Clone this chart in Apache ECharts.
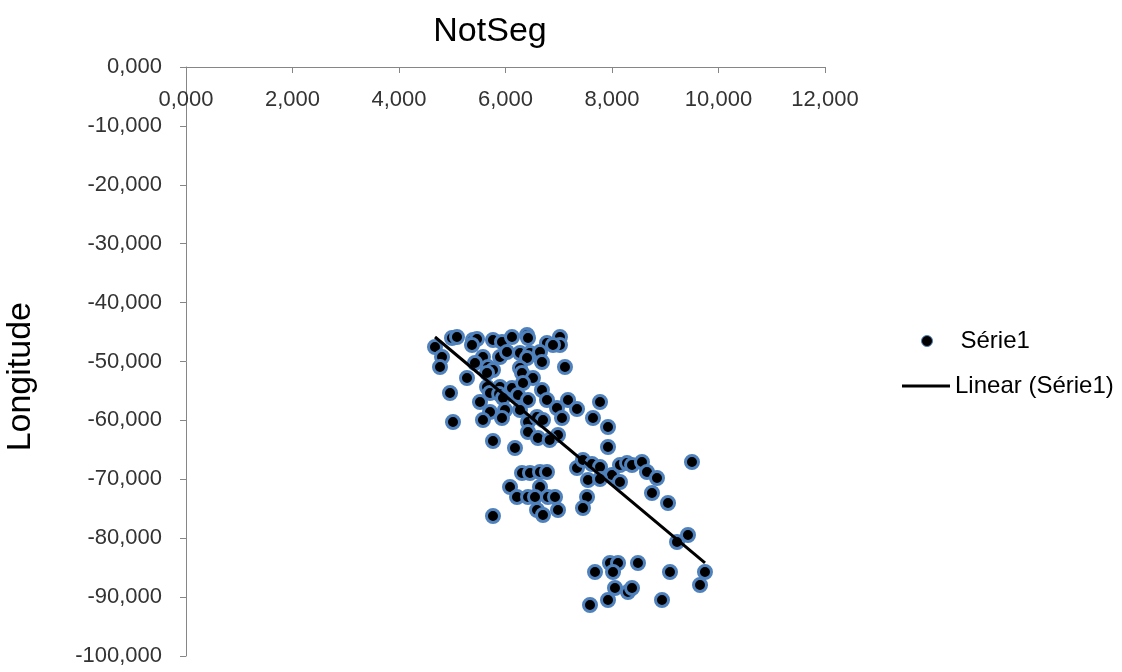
<!DOCTYPE html>
<html>
<head>
<meta charset="utf-8">
<script src="https://cdn.jsdelivr.net/npm/echarts@6/dist/echarts.min.js"></script>
<style>html,body{margin:0;padding:0;background:#fff}#c{width:1122px;height:672px}</style>
</head>
<body>
<div id="c"></div>
<script>
const title = 'NotSeg';
const yAxisName = 'Longitude';
const seriesName = 'Série1';
const trendName = 'Linear (Série1)';
const xTicks = [0, 2, 4, 6, 8, 10, 12];
const yTicks = [0, -10, -20, -30, -40, -50, -60, -70, -80, -90, -100];
const xValues = [
  4.676, 4.808, 4.770, 4.995, 5.089, 5.390, 5.465, 5.371, 5.765, 5.934,
  6.122, 6.404, 6.423, 7.023, 7.023, 6.779, 6.892, 5.577, 5.897, 6.028,
  6.272, 6.460, 6.648, 6.404, 5.427, 5.671, 5.765, 6.272, 6.685, 7.117,
  5.653, 6.310, 5.277, 6.516, 5.653, 5.897, 6.122, 6.329, 4.958, 5.709,
  5.880, 6.235, 6.685, 5.521, 5.953, 6.423, 6.779, 7.174, 7.775, 5.709,
  5.991, 6.272, 6.967, 7.343, 5.014, 5.577, 5.934, 6.423, 6.592, 6.704,
  7.061, 7.643, 7.925, 6.423, 6.610, 6.986, 5.765, 6.178, 6.830, 7.925,
  7.343, 7.455, 7.624, 7.775, 8.000, 6.310, 6.460, 6.648, 6.779, 6.085,
  6.648, 7.549, 7.775, 6.216, 6.423, 6.554, 6.798, 6.930, 7.531, 6.592,
  6.704, 6.986, 7.455, 5.765, 8.150, 8.150, 8.282, 8.376, 8.563, 8.657,
  8.845, 9.502, 8.751, 9.052, 9.427, 9.221, 9.746, 9.653, 9.089, 8.488,
  7.962, 8.113, 7.681, 8.019, 8.056, 8.300, 8.376, 7.925, 7.587, 8.939
];
const yValues = [
  -47.54, -49.24, -50.93, -46.01, -45.84, -46.35, -46.18, -47.20, -46.35, -46.69,
  -45.84, -45.50, -46.01, -45.84, -47.20, -46.86, -47.20, -49.24, -49.24, -48.39,
  -48.56, -48.56, -48.39, -49.41, -50.25, -50.93, -51.44, -51.10, -50.08, -50.93,
  -51.95, -51.95, -52.80, -52.80, -54.33, -54.33, -54.50, -53.65, -55.35, -55.35,
  -55.50, -55.69, -54.84, -56.88, -56.20, -56.54, -56.54, -56.54, -56.88, -58.57,
  -58.23, -58.23, -57.89, -58.06, -60.27, -59.93, -59.59, -60.27, -59.42, -59.93,
  -59.59, -59.59, -61.12, -61.97, -62.99, -62.48, -63.50, -64.69, -63.33, -64.52,
  -68.08, -66.72, -67.40, -67.91, -69.27, -68.93, -68.93, -68.76, -68.76, -71.31,
  -71.31, -70.12, -69.95, -73.01, -73.01, -73.01, -73.01, -73.01, -73.01, -75.21,
  -76.06, -75.21, -74.87, -76.23, -70.46, -67.57, -67.23, -67.57, -67.06, -68.76,
  -69.78, -67.06, -72.33, -74.02, -79.46, -80.65, -85.74, -87.95, -85.74, -84.21,
  -84.21, -84.21, -85.74, -85.74, -88.46, -89.13, -88.46, -90.49, -91.34, -90.49
];
const trendX = [4.676, 9.746];
const trendY = [-45.84, -84.20];

const points = xValues.map((x, i) => [x, yValues[i]]);
const trend = trendX.map((x, i) => [x, trendY[i]]);
const fmt = v => v.toFixed(3).replace('.', ',');
const FONT = 'Liberation Sans';

const chart = echarts.init(document.getElementById('c'));
chart.setOption({
  animation: false,
  backgroundColor: '#fff',
  title: {
    text: title, left: 485, top: 10, textAlign: 'center',
    textStyle: { fontFamily: FONT, fontSize: 34, fontWeight: 'normal', color: '#000' }
  },
  graphic: [{
    type: 'text', left: 4, top: 302, rotation: Math.PI / 2,
    style: { text: yAxisName, fontFamily: FONT, fontSize: 34, fill: '#000' }
  }],
  legend: [{
    data: [{ name: seriesName, icon: 'circle' }], orient: 'vertical', left: 921, top: 329, padding: 0,
    itemWidth: 11, itemHeight: 11,
    itemStyle: { color: '#000', borderColor: '#4f81bd', borderWidth: 1 },
    textStyle: { fontFamily: FONT, fontSize: 24, color: '#000', padding: [0, 0, 0, 23] }
  }, {
    data: [{ name: trendName, icon: 'rect' }], orient: 'vertical', left: 902, top: 374, padding: 0,
    itemWidth: 48, itemHeight: 3,
    itemStyle: { color: '#000', borderWidth: 0 },
    textStyle: { fontFamily: FONT, fontSize: 24, color: '#000' }
  }],
  grid: { left: 186, right: 297, top: 67, bottom: 16, containLabel: false },
  xAxis: {
    type: 'value', position: 'top', min: xTicks[0], max: xTicks[xTicks.length - 1], interval: 2,
    axisLine: { onZero: false, lineStyle: { color: '#868686', width: 1 } },
    axisTick: { show: true, inside: true, length: 6, lineStyle: { color: '#868686' } },
    axisLabel: { inside: true, margin: 22, formatter: fmt, fontFamily: FONT, fontSize: 22, color: '#333' },
    splitLine: { show: false }
  },
  yAxis: {
    type: 'value', min: yTicks[yTicks.length - 1], max: yTicks[0], interval: 10,
    axisLine: { show: true, onZero: false, lineStyle: { color: '#868686', width: 1 } },
    axisTick: { show: true, inside: false, length: 6, lineStyle: { color: '#868686' } },
    axisLabel: { margin: 24, formatter: fmt, fontFamily: FONT, fontSize: 22, color: '#333' },
    splitLine: { show: false }
  },
  series: [{
    name: seriesName, type: 'scatter', data: points, symbol: 'circle', symbolSize: 13,
    itemStyle: { color: '#000', borderColor: '#4f81bd', borderWidth: 3, opacity: 1 },
    z: 2
  }, {
    name: trendName, type: 'line', data: trend, symbol: 'none', showSymbol: false,
    lineStyle: { color: '#000', width: 3 }, itemStyle: { color: '#000' },
    z: 3
  }]
});
</script>
</body>
</html>
